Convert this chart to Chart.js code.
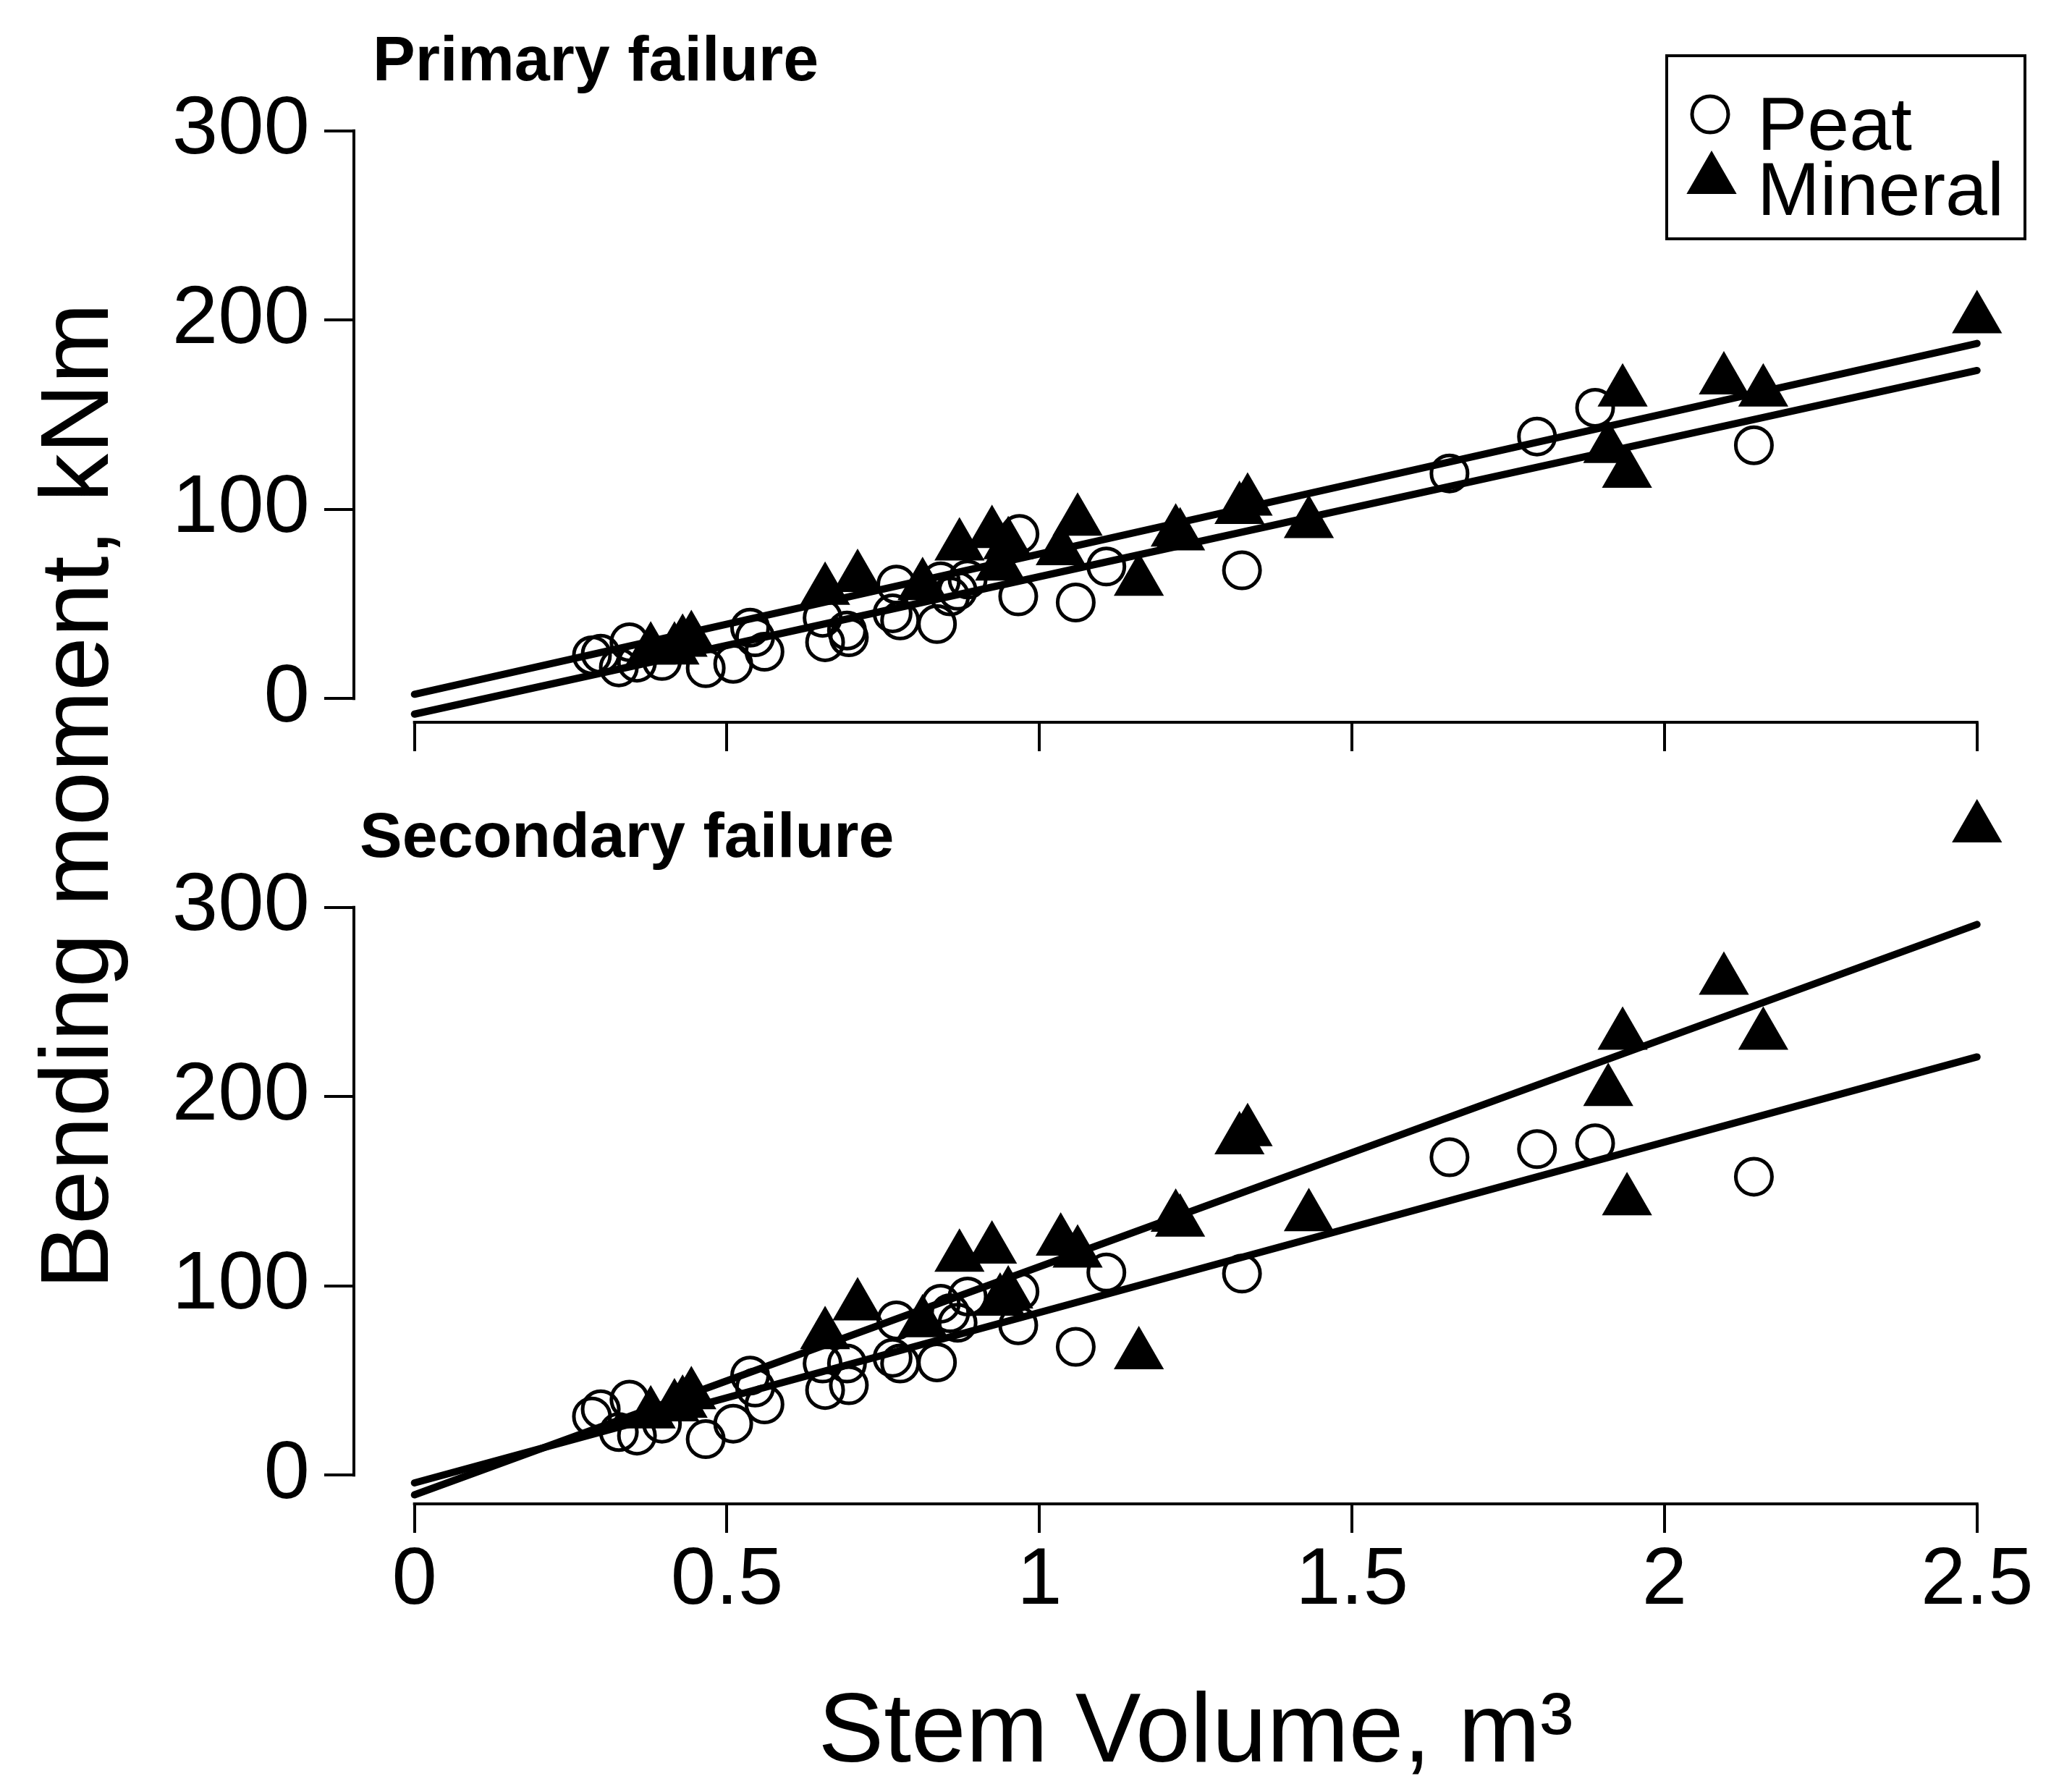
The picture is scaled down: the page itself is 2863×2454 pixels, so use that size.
<!DOCTYPE html>
<html>
<head>
<meta charset="utf-8">
<title>Bending moment vs stem volume</title>
<script src="https://cdn.jsdelivr.net/npm/chart.js@4.4.1/dist/chart.umd.min.js"></script>
<style>
  html, body { margin: 0; padding: 0; background: #fff; }
  #page { position: relative; width: 2863px; height: 2454px; overflow: hidden; background: #fff; }
  canvas { position: absolute; left: 0; }
  #primaryCanvas { top: 0; }
  #secondaryCanvas { top: 1100px; }
  #yTitle {
    position: absolute; left: -694px; top: 1020px; width: 1600px; height: 160px;
    line-height: 160px; text-align: center; white-space: nowrap; color: #000;
    font: 134px 'Liberation Sans', Arial, Helvetica, sans-serif;
    transform: rotate(-90deg);
  }
</style>
</head>
<body>
<div id="page">
  <canvas id="primaryCanvas" width="2863" height="1100" style="width:2863px;height:1100px"></canvas>
  <canvas id="secondaryCanvas" width="2863" height="1354" style="width:2863px;height:1354px"></canvas>
  <div id="yTitle">Bending moment, kNm</div>
</div>
<script>
// tick labels
const volumeTicks = [0, 0.5, 1, 1.5, 2, 2.5];
const momentTicks = [0, 100, 200, 300];

// peat trees (open circles), m3 and kNm
const peatVolume    = [0.284, 0.298, 0.327, 0.344, 0.356, 0.396, 0.466, 0.510, 0.537, 0.545, 0.560, 0.653, 0.657, 0.692, 0.695, 0.765, 0.771, 0.777, 0.836, 0.842, 0.857, 0.869, 0.885, 0.966, 0.968, 1.058, 1.107, 1.324, 1.656, 1.796, 1.889, 2.143];
const peatPrimary   = [22.9, 23.7, 16.5, 29.8, 19.0, 19.9, 16.1, 18.4, 37.5, 32.4, 24.8, 42.7, 29.8, 36.0, 32.4, 45.1, 60.3, 41.3, 39.4, 62.0, 54.0, 57.0, 62.9, 54.0, 87.0, 50.8, 69.8, 67.8, 119.0, 138.5, 153.7, 133.9];
const peatSecondary = [31.0, 34.8, 22.8, 39.9, 20.9, 27.2, 19.0, 27.2, 52.6, 46.3, 37.4, 59.0, 45.0, 59.0, 47.5, 62.0, 81.8, 59.0, 59.6, 90.6, 85.6, 80.5, 94.4, 79.2, 97.0, 67.8, 107.1, 106.5, 168.0, 172.3, 175.4, 157.7];

// mineral soil trees (filled triangles)
const mineralVolume    = [0.378, 0.416, 0.429, 0.443, 0.657, 0.709, 0.813, 0.872, 0.924, 0.937, 0.950, 1.034, 1.061, 1.159, 1.218, 1.225, 1.320, 1.333, 1.431, 1.910, 1.933, 1.940, 2.095, 2.158, 2.500];
const mineralPrimary   = [25.6, 25.6, 29.8, 31.7, 57.2, 64.0, 59.7, 80.6, 87.2, 70.0, 81.3, 78.1, 93.7, 62.0, 88.0, 86.0, 99.9, 104.3, 92.5, 132.2, 162.0, 119.1, 168.4, 162.0, 200.7];
const mineralSecondary = [32.3, 36.1, 38.0, 42.5, 74.2, 89.4, 80.5, 115.1, 119.4, 91.9, 95.7, 123.6, 117.3, 63.6, 136.3, 133.7, 177.2, 181.5, 136.5, 202.7, 232.4, 145.0, 261.5, 232.4, 342.0];

// fitted regression lines, value at each end of fitVolume
const fitVolume = [0, 2.5];
const primaryFitPeat      = [-8.2, 173.4];
const primaryFitMineral   = [2.3, 187.7];
const secondaryFitPeat    = [-4.1, 221.0];
const secondaryFitMineral = [-10.4, 291.0];

const seriesNames = ['Peat', 'Mineral'];
const panelTitles = ['Primary failure', 'Secondary failure'];

const FONT = "'Liberation Sans', Arial, Helvetica, sans-serif";

function toPoints(xs, ys) {
    return xs.map((x, i) => ({ x: x, y: ys[i] }));
}

// R style axes: line only between first and last tick, plus panel title / legend
const rAxes = {
    id: 'rAxes',
    afterDraw(chart, args, opts) {
        const ctx = chart.ctx;
        const area = chart.chartArea;
        const xs = chart.scales.x;
        const ys = chart.scales.y;
        ctx.save();
        ctx.strokeStyle = '#000';
        ctx.fillStyle = '#000';
        ctx.lineWidth = 4;
        ctx.beginPath();
        ctx.moveTo(area.left, ys.getPixelForValue(momentTicks[0]) + 2);
        ctx.lineTo(area.left, ys.getPixelForValue(momentTicks[momentTicks.length - 1]) - 2);
        ctx.moveTo(xs.getPixelForValue(volumeTicks[0]) - 2, area.bottom);
        ctx.lineTo(xs.getPixelForValue(volumeTicks[volumeTicks.length - 1]) + 2, area.bottom);
        ctx.stroke();

        ctx.font = 'bold 88px ' + FONT;
        ctx.textAlign = 'left';
        ctx.textBaseline = 'alphabetic';
        ctx.fillText(opts.title, opts.titleX, opts.titleY);

        if (opts.legend) {
            ctx.lineWidth = 4;
            ctx.strokeRect(2303, 77, 495, 253);
            // circle
            ctx.lineWidth = 5;
            ctx.beginPath();
            ctx.arc(2363, 158, 25, 0, Math.PI * 2);
            ctx.stroke();
            // triangle
            const r = 40, cx = 2365, cy = 248;
            ctx.beginPath();
            ctx.moveTo(cx, cy - r);
            ctx.lineTo(cx + r * Math.sin(2 * Math.PI / 3), cy + r / 2);
            ctx.lineTo(cx - r * Math.sin(2 * Math.PI / 3), cy + r / 2);
            ctx.closePath();
            ctx.fill();
            ctx.font = '104px ' + FONT;
            ctx.fillText(seriesNames[0], 2428, 207);
            ctx.fillText(seriesNames[1], 2428, 297);
        }
        ctx.restore();
    }
};

function makePanel(canvasId, cfg) {
    const ctx = document.getElementById(canvasId).getContext('2d');
    return new Chart(ctx, {
        type: 'scatter',
        data: {
            datasets: [
                {
                    label: 'Mineral fit',
                    data: toPoints(fitVolume, cfg.mineralFit),
                    showLine: true, borderColor: '#000', borderWidth: 10,
                    borderCapStyle: 'round', pointRadius: 0, fill: false
                },
                {
                    label: 'Peat fit',
                    data: toPoints(fitVolume, cfg.peatFit),
                    showLine: true, borderColor: '#000', borderWidth: 10,
                    borderCapStyle: 'round', pointRadius: 0, fill: false
                },
                {
                    label: seriesNames[1],
                    data: toPoints(mineralVolume, cfg.mineral),
                    pointStyle: 'triangle', pointRadius: 40,
                    backgroundColor: '#000', borderColor: '#000', borderWidth: 0,
                    clip: false
                },
                {
                    label: seriesNames[0],
                    data: toPoints(peatVolume, cfg.peat),
                    pointStyle: 'circle', pointRadius: 25,
                    backgroundColor: 'rgba(0,0,0,0)', borderColor: '#000', borderWidth: 5,
                    clip: false
                }
            ]
        },
        options: {
            responsive: false,
            devicePixelRatio: 1,
            animation: false,
            events: [],
            layout: { autoPadding: false, padding: { top: cfg.padTop, right: 48, bottom: 0, left: 0 } },
            plugins: {
                legend: { display: false },
                tooltip: { enabled: false },
                rAxes: { title: cfg.title, titleX: cfg.titleX, titleY: cfg.titleY, legend: cfg.legend }
            },
            scales: {
                x: {
                    type: 'linear',
                    position: 'bottom',
                    min: -0.0969,
                    max: 2.5964,
                    afterBuildTicks: s => { s.ticks = volumeTicks.map(v => ({ value: v })); },
                    afterFit: s => {
                        s.height = cfg.xHeight;
                        s.paddingLeft = 0; s.paddingRight = 0;
                        s.paddingTop = 0; s.paddingBottom = 0;
                    },
                    border: { display: false },
                    grid: { drawOnChartArea: false, drawTicks: true, tickLength: 40, color: '#000', lineWidth: 4 },
                    ticks: {
                        display: cfg.showXLabels, autoSkip: false, maxRotation: 0, padding: 0,
                        color: '#000', font: { family: FONT, size: 112 },
                        callback: v => String(v)
                    },
                    title: {
                        display: cfg.showXLabels,
                        text: 'Stem Volume, m³',
                        color: '#000',
                        font: { family: FONT, size: 136, lineHeight: 0.85 },
                        padding: { top: 0, bottom: 0 }
                    }
                },
                y: {
                    type: 'linear',
                    min: cfg.yMin,
                    max: cfg.yMax,
                    afterBuildTicks: s => { s.ticks = momentTicks.map(v => ({ value: v })); },
                    afterFit: s => {
                        s.width = 489;
                        s.paddingLeft = 0; s.paddingRight = 0;
                        s.paddingTop = 0; s.paddingBottom = 0;
                    },
                    border: { display: false },
                    grid: { drawOnChartArea: false, drawTicks: true, tickLength: 41, color: '#000', lineWidth: 4 },
                    ticks: {
                        padding: 20, color: '#000', font: { family: FONT, size: 114 },
                        callback: v => String(v)
                    }
                }
            }
        },
        plugins: [rAxes]
    });
}

makePanel('primaryCanvas', {
    peat: peatPrimary, mineral: mineralPrimary,
    peatFit: primaryFitPeat, mineralFit: primaryFitMineral,
    padTop: 19, xHeight: 102, yMin: -12.50, yMax: 361.9,
    showXLabels: false, legend: true,
    title: panelTitles[0], titleX: 515, titleY: 111
});

makePanel('secondaryCanvas', {
    peat: peatSecondary, mineral: mineralSecondary,
    peatFit: secondaryFitPeat, mineralFit: secondaryFitMineral,
    padTop: 10, xHeight: 376, yMin: -15.18, yMax: 355.0,
    showXLabels: true, legend: false,
    title: panelTitles[1], titleX: 497, titleY: 84
});
</script>
</body>
</html>
